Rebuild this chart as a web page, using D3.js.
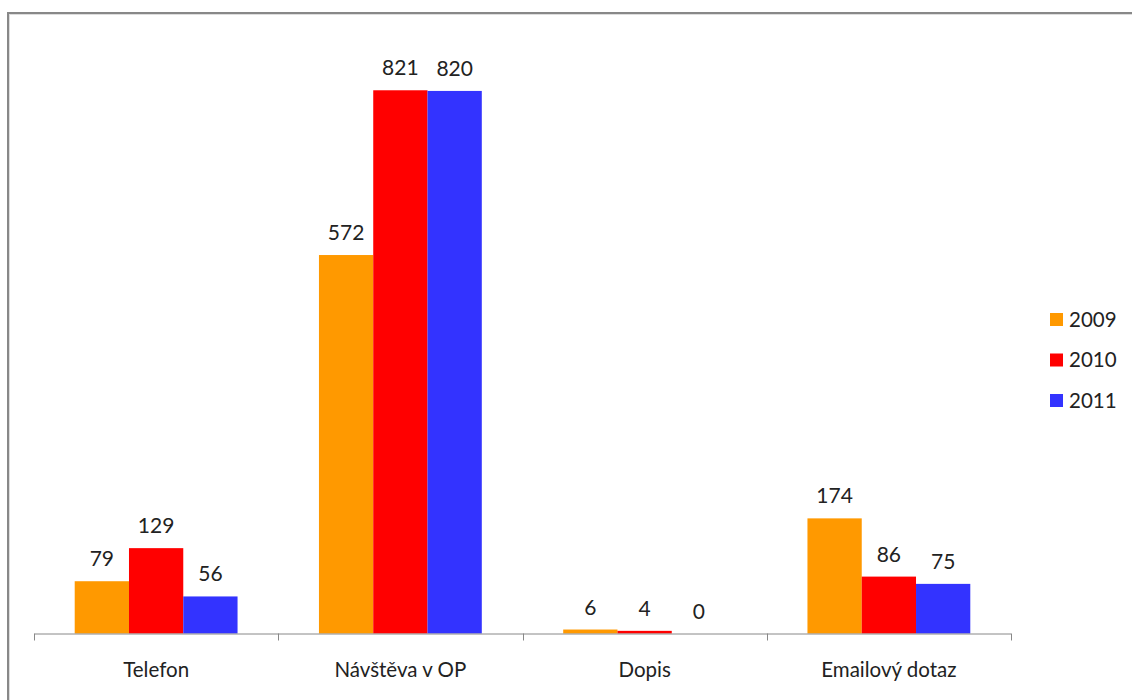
<!DOCTYPE html>
<html>
<head>
<meta charset="utf-8">
<script src="https://cdn.jsdelivr.net/npm/d3@7"></script>
<style>
  body { margin: 0; background: #fff; overflow: hidden; }
  text { font-family: Lato, "Open Sans", sans-serif; fill: #222; }
</style>
</head>
<body>
<div id="chart"></div>
<script>
// data
var categories = ["Telefon", "Návštěva v OP", "Dopis", "Emailový dotaz"];
var years = ["2009", "2010", "2011"];
var values2009 = [79, 572, 6, 174];
var values2010 = [129, 821, 4, 86];
var values2011 = [56, 820, 0, 75];
var colors = ["#FF9900", "#FF0000", "#3333FF"];

var series = [values2009, values2010, values2011];

var W = 1132, H = 700;
var margin = {top: 38, left: 34, right: 121, bottom: 66.5};
var width = W - margin.left - margin.right,
    height = H - margin.top - margin.bottom;

var svg = d3.select("#chart")
    .append("svg")
    .attr("width", W)
    .attr("height", H);

// chart frame
svg.append("rect")
    .attr("x", 8).attr("y", 13)
    .attr("width", 1300).attr("height", 900)
    .attr("fill", "none")
    .attr("stroke", "#888")
    .attr("stroke-width", 2);
svg.append("rect")
    .attr("x", 9.5).attr("y", 14.5)
    .attr("width", 1300).attr("height", 900)
    .attr("fill", "none")
    .attr("stroke", "#ddd")
    .attr("stroke-width", 1);

var g = svg.append("g")
    .attr("transform", "translate(" + margin.left + "," + margin.top + ")");

var x = d3.scaleBand()
    .domain(categories)
    .range([0, width]);

// 150% gap width between groups
var barW = x.bandwidth() / (years.length + 1.5);
var xs = d3.scaleBand()
    .domain(years)
    .range([0, barW * years.length]);

var y = d3.scaleLinear()
    .domain([0, 900])
    .range([height, 0]);

var rows = [];
categories.forEach(function (c, i) {
    years.forEach(function (yr, j) {
        rows.push({cat: c, year: yr, value: series[j][i], color: colors[j]});
    });
});

var offset = (x.bandwidth() - barW * years.length) / 2;

g.selectAll("rect.bar")
    .data(rows)
    .enter()
    .append("rect")
    .attr("class", "bar")
    .attr("x", function (d) { return x(d.cat) + offset + xs(d.year); })
    .attr("y", function (d) { return y(d.value); })
    .attr("width", xs.bandwidth())
    .attr("height", function (d) { return height - y(d.value); })
    .attr("fill", function (d) { return d.color; });

g.selectAll("text.val")
    .data(rows)
    .enter()
    .append("text")
    .attr("class", "val")
    .attr("x", function (d) { return x(d.cat) + offset + xs(d.year) + xs.bandwidth() / 2; })
    .attr("y", function (d) { return y(d.value) - 15; })
    .attr("text-anchor", "middle")
    .style("font-size", "21px")
    .text(function (d) { return d.value; });

// x axis
var axis = g.append("g")
    .attr("transform", "translate(0," + height + ")")
    .call(d3.axisBottom(x).tickSize(0).tickPadding(29));
axis.select(".domain").attr("stroke", "#888").attr("d", "M0.5,0.5H" + width);
axis.selectAll("text").style("font-size", "20.5px").attr("fill", "#222");

var edges = categories.map(function (c) { return x(c); }).concat([width]);
axis.selectAll("line.sep")
    .data(edges)
    .enter()
    .append("line")
    .attr("class", "sep")
    .attr("x1", function (d) { return Math.round(d) + 0.5; })
    .attr("x2", function (d) { return Math.round(d) + 0.5; })
    .attr("y1", 0).attr("y2", 7)
    .attr("stroke", "#888");

// legend
var legend = svg.append("g")
    .attr("transform", "translate(1050,319)");
var li = legend.selectAll("g")
    .data(years)
    .enter()
    .append("g")
    .attr("transform", function (d, i) { return "translate(0," + i * 40.5 + ")"; });
li.append("rect")
    .attr("x", 0).attr("y", -6)
    .attr("width", 13).attr("height", 13)
    .attr("fill", function (d, i) { return colors[i]; });
li.append("text")
    .attr("x", 19).attr("y", 7.5)
    .style("font-size", "20.5px")
    .text(function (d) { return d; });
</script>
</body>
</html>
